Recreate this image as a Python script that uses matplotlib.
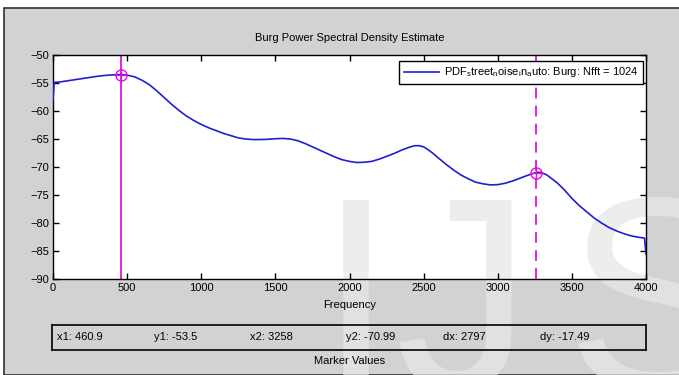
import matplotlib
matplotlib.use("Agg")
import matplotlib.pyplot as plt
from matplotlib.patches import Rectangle

plt.rcParams['font.family'] = ['Liberation Sans', 'DejaVu Sans']
plt.rcParams['font.size'] = 8
plt.rcParams['mathtext.fontset'] = 'custom'
plt.rcParams['mathtext.rm'] = 'Liberation Sans'

# Burg PSD estimate (Hz, dB/Hz)
freq = [0, 8, 50, 100, 150, 200, 250, 300, 350, 400, 460.9, 500, 550, 600, 650,
        700, 750, 800, 850, 900, 950, 1000, 1050, 1100, 1150, 1200, 1250, 1300,
        1350, 1400, 1450, 1500, 1550, 1600, 1650, 1700, 1750, 1800, 1850, 1900,
        1950, 2000, 2050, 2100, 2150, 2200, 2250, 2300, 2350, 2400, 2440, 2470,
        2500, 2530, 2560, 2600, 2650, 2700, 2750, 2800, 2850, 2900, 2950, 3000,
        3050, 3100, 3150, 3200, 3258, 3290, 3330, 3400, 3450, 3500, 3550, 3600,
        3650, 3700, 3750, 3800, 3850, 3900, 3950, 3990, 4000]
psd = [-58.0, -54.9, -54.8, -54.6, -54.4, -54.2, -54.0, -53.8, -53.65, -53.55,
       -53.5, -53.6, -53.9, -54.5, -55.3, -56.4, -57.6, -58.8, -59.9, -60.9,
       -61.7, -62.4, -63.0, -63.5, -64.0, -64.4, -64.8, -65.0, -65.1, -65.1,
       -65.05, -64.95, -64.9, -65.0, -65.3, -65.8, -66.4, -67.0, -67.6, -68.2,
       -68.7, -69.0, -69.2, -69.15, -69.0, -68.6, -68.1, -67.6, -67.0, -66.5,
       -66.2, -66.2, -66.4, -66.9, -67.5, -68.4, -69.5, -70.5, -71.4, -72.1,
       -72.7, -73.0, -73.2, -73.15, -72.9, -72.5, -72.0, -71.5, -70.99, -70.95,
       -71.4, -72.8, -74.1, -75.6, -76.9, -78.0, -79.1, -80.0, -80.8, -81.4,
       -81.9, -82.3, -82.55, -82.7, -85.5]

# data cursor markers
x1, y1 = 460.9, -53.5
x2, y2 = 3258, -70.99

xticks = list(range(0, 4001, 500))
yticks = list(range(-90, -49, 5))

W, H = 679, 375
fig = plt.figure(figsize=(W / 100, H / 100), dpi=100, facecolor='white')

def fbox(x0, y0, x1_, y1_):
    # pixel box (top-left origin) -> figure fraction rect
    return [x0 / W, 1 - y1_ / H, (x1_ - x0) / W, (y1_ - y0) / H]

# grey window panel
fig.patches.append(Rectangle((4 / W, 0), 1, 1 - 8 / H, transform=fig.transFigure,
                             facecolor='#d2d2d2', edgecolor='#303030', lw=1.2, zorder=-3))
ax_rect = fbox(53, 55, 646, 279)
fig.patches.append(Rectangle((ax_rect[0], ax_rect[1]), ax_rect[2], ax_rect[3],
                             transform=fig.transFigure, facecolor='white',
                             edgecolor='none', zorder=-2))

# watermark
wm = dict(transform=fig.dpi_scale_trans, fontsize=197, color='#e7e7e7', alpha=0.72,
          va='baseline', ha='left', zorder=-1, family='Liberation Sans')
fig.text(318 / 100, -14 / 100, 'I', **wm)
fig.text(395 / 100, -14 / 100, 'J', **wm)
fig.text(566 / 100, -14 / 100, 'S', **wm)

ax = fig.add_axes(ax_rect)
ax.set_facecolor('none')
ax.plot(freq, psd, color='#1f1fd0', lw=1.2, zorder=3,
        label=r'PDF$_\mathrm{s}$treet$_\mathrm{n}$oise$_\mathrm{i}$n$_\mathrm{a}$uto: Burg: Nfft = 1024')

ax.axvline(x1, color='#e010e0', lw=1.3, zorder=2)
ax.axvline(x2, color='#e010e0', lw=1.3, ls=(0, (6, 4)), zorder=2)
for mx, my in [(x1, y1), (x2, y2)]:
    ax.plot(mx, my, marker='o', ms=8, mfc='none', mec='#e010e0', mew=1.0, zorder=4)
    ax.plot(mx, my, marker='+', ms=8, mec='#e010e0', mew=1.0, zorder=4)

ax.set_xlim(0, 4000)
ax.set_ylim(-90, -50)
ax.set_xticks(xticks)
ax.set_yticks(yticks)
ax.tick_params(direction='in', length=4, width=1, pad=3, top=True, right=True,
               labelsize=8)
for s in ax.spines.values():
    s.set_linewidth(1.0)

ax.set_title('Burg Power Spectral Density Estimate', fontsize=8, pad=10)
ax.set_xlabel('Frequency', fontsize=8, labelpad=5)

leg = ax.legend(loc='upper right', bbox_to_anchor=(0.995, 0.973), borderaxespad=0,
                fontsize=8, frameon=True, fancybox=False, framealpha=1,
                edgecolor='black', handlelength=3.2, borderpad=0.4,
                handletextpad=0.4)
leg.get_frame().set_linewidth(1.0)

# marker value readout
dx = x2 - x1
dy = y2 - y1
vals = ['x1: %.1f' % x1, 'y1: %.1f' % y1, 'x2: %g' % x2, 'y2: %.2f' % y2,
        'dx: %.0f' % dx, 'dy: %.2f' % dy]
bx = fig.add_axes(fbox(52, 325, 646, 350))
bx.set_facecolor('none')
bx.set_xticks([])
bx.set_yticks([])
for s in bx.spines.values():
    s.set_linewidth(1.2)
for i, v in enumerate(vals):
    bx.text((5 + i * 96.5) / 594, 0.5, v, transform=bx.transAxes, va='center',
            ha='left', fontsize=8)
fig.text(349.5 / W, 1 - 361 / H, 'Marker Values', ha='center', va='center', fontsize=8)

fig.savefig('out.png', dpi=100, facecolor=fig.get_facecolor())
